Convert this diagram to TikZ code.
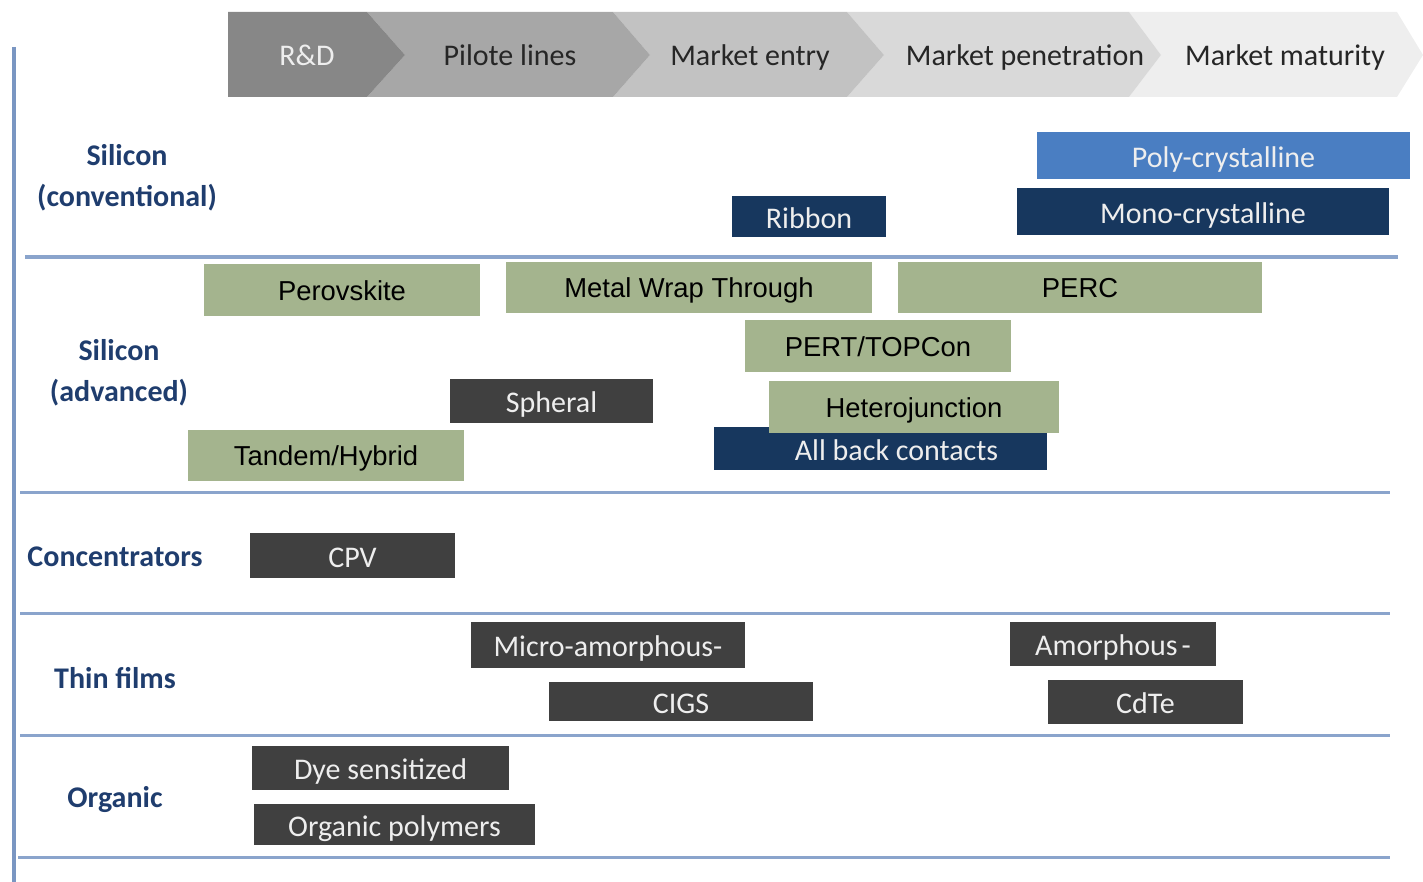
\documentclass[tikz,border=0pt]{standalone}
\usepackage{fontspec}
\setmainfont{Carlito}
\newfontfamily\arialf{Liberation Sans}
\definecolor{navy}{HTML}{17375E}
\definecolor{midblue}{HTML}{4A7EC2}
\definecolor{dgray}{HTML}{404040}
\definecolor{sage}{HTML}{A4B48E}
\definecolor{lblue}{HTML}{1F3D6E}
\definecolor{rule}{HTML}{8AA4CC}
\definecolor{vrule}{HTML}{7A96C2}
\definecolor{chA}{HTML}{878787}
\definecolor{chB}{HTML}{A7A7A7}
\definecolor{chC}{HTML}{C2C2C2}
\definecolor{chD}{HTML}{D9D9D9}
\definecolor{chE}{HTML}{EEEEEE}
\definecolor{lighttext}{HTML}{EEEEEE}
\newcommand\bx[7]{\node[#2, minimum width={(#5-#3)*0.5pt}, minimum height={(#6-#4)*0.5pt}] (#1) at ({(#3+#5)/2},{(#4+#6)/2}) {#7};}
\tikzset{
  base/.style={inner sep=0pt, outer sep=0pt, font=\fontsize{15}{16}\selectfont, text height=11.8pt, text depth=0pt},
  darkbox/.style={base, fill=dgray, text=lighttext},
  navybox/.style={base, fill=navy, text=lighttext},
  bluebox/.style={base, fill=midblue, text=lighttext},
  greenbox/.style={base, fill=sage, text=black, font=\arialf\fontsize{13.7}{15}\selectfont, text height=10pt},
  cat/.style={text=lblue, font=\bfseries\fontsize{15}{20.5}\selectfont, align=center, inner sep=0pt, yshift=-1pt},
  head/.style={font=\fontsize{15}{16}\selectfont, text=black!85, inner sep=0pt, text height=10.2pt, text depth=0pt},
  sep/.style={draw=rule, line width=1.5pt},
}
\begin{document}
\begin{tikzpicture}[x=0.5pt,y=-0.5pt]
\useasboundingbox (0,0) rectangle (1423,882);
% header chevrons
\fill[chE] (1129,12) -- (1397,12) -- (1423,55) -- (1397,97) -- (1129,97) -- (1161,55) -- cycle;
\fill[chD] (847,12) -- (1129,12) -- (1161,55) -- (1129,97) -- (847,97) -- (884,55) -- cycle;
\fill[chC] (613,12) -- (847,12) -- (884,55) -- (847,97) -- (613,97) -- (650,55) -- cycle;
\fill[chB] (367,12) -- (613,12) -- (650,55) -- (613,97) -- (367,97) -- (405,55) -- cycle;
\fill[chA] (228,12) -- (367,12) -- (405,55) -- (367,97) -- (228,97) -- cycle;
\node[head, text=lighttext] (h1) at (307,55) {R\&D};
\node[head] (h2) at (510,55) {Pilote lines};
\node[head] (h3) at (750,55) {Market entry};
\node[head] (h4) at (1025,55) {Market penetration};
\node[head] (h5) at (1285,55) {Market maturity};
% rules
\draw[draw=vrule, line width=2pt] (14,47) -- (14,882);
\draw[sep] (25,257) -- (1398,257);
\draw[sep] (20,492) -- (1390,492);
\draw[sep] (20,613) -- (1390,613);
\draw[sep] (20,735) -- (1390,735);
\draw[sep] (18,857) -- (1390,857);
% categories
\node[cat] (c1) at (127,176) {Silicon\\(conventional)};
\node[cat] (c2) at (119,371) {Silicon\\(advanced)};
\node[cat] (c3) at (115,555) {Concentrators};
\node[cat] (c4) at (115,676) {Thin films};
\node[cat] (c5) at (115,798) {Organic};
% silicon conventional
\bx{poly}{bluebox}{1037}{132}{1410}{179}{Poly-crystalline}
\bx{mono}{navybox}{1017}{188}{1389}{235}{Mono-crystalline}
\bx{ribbon}{navybox}{732}{196}{886}{237}{Ribbon}
% silicon advanced
\bx{perov}{greenbox}{204}{264}{480}{316}{Perovskite}
\bx{mwt}{greenbox}{506}{262}{872}{313}{Metal Wrap Through}
\bx{perc}{greenbox}{898}{262}{1262}{313}{PERC}
\bx{pert}{greenbox}{745}{320}{1011}{372}{PERT/TOPCon}
\bx{spheral}{darkbox}{450}{379}{653}{423}{Spheral}
\bx{abc}{navybox}{714}{427}{1047}{470}{\hspace*{16pt}All back contacts}
\bx{hetero}{greenbox}{769}{381}{1059}{433}{Heterojunction}
\bx{tandem}{greenbox}{188}{430}{464}{481}{Tandem/Hybrid}
% concentrators
\bx{cpv}{darkbox}{250}{533}{455}{578}{CPV}
% thin films
\bx{micro}{darkbox}{471}{622}{745}{668}{Micro-amorphous-}
\bx{cigs}{darkbox}{549}{682}{813}{721}{CIGS}
\bx{amorph}{darkbox}{1010}{622}{1216}{666}{Amorphous\kern2pt-}
\bx{cdte}{darkbox}{1048}{680}{1243}{724}{CdTe}
% organic
\bx{dye}{darkbox}{252}{746}{509}{790}{Dye sensitized}
\bx{opoly}{darkbox}{254}{804}{535}{845}{Organic polymers}
\end{tikzpicture}
\end{document}
